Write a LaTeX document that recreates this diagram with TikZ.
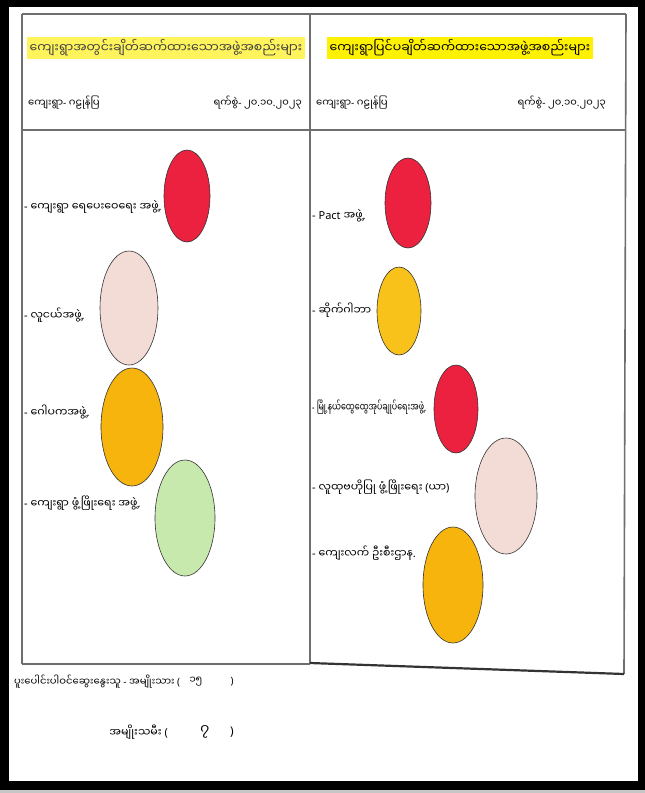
\documentclass[tikz,border=0pt]{standalone}
\usepackage{fontspec}
\setmainfont{Noto Sans}
\newfontfamily\my[Script=Myanmar]{Noto Sans Myanmar UI}
\usetikzlibrary{shapes.geometric}
\definecolor{dotred}{HTML}{EC2140}
\definecolor{dotpink}{HTML}{F4DCD6}
\definecolor{dotorange}{HTML}{F6B40C}
\definecolor{dotyellow}{HTML}{F8C21A}
\definecolor{dotgreen}{HTML}{C8E9AE}
\definecolor{hlright}{HTML}{FFF200}
\definecolor{hlleft}{HTML}{FFF45C}
\definecolor{rule}{HTML}{6E6E6E}
\tikzset{
  tline/.style={draw=rule, line width=1.6pt},
  dot/.style={ellipse, draw=black!80, line width=0.6pt, inner sep=0pt},
  lab/.style={anchor=west, inner sep=0pt, font=\fontsize{11}{13}\selectfont},
  title/.style={inner sep=3pt, font=\fontsize{12.5}{14}\selectfont},
  meta/.style={inner sep=0pt, font=\fontsize{10}{12}\selectfont},
}
\begin{document}
\begin{tikzpicture}[x=1pt,y=-1pt]
\useasboundingbox (0,0) rectangle (645,793);
% photo frame
\fill[black] (0,0) rectangle (645,790);
\fill[gray!45] (0,790) rectangle (645,793);
\fill[white] (9,7) rectangle (638,781);
% table
\draw[tline] (22,14) -- (626,14);
\draw[tline] (22,130) -- (626,130);
\draw[tline] (22,14) -- (22,664);
\draw[tline] (310,14) -- (310,664);
\draw[tline] (626,14) -- (624,674);
\draw[tline] (22,664) -- (310,664);
\draw[draw=black!80, line width=2.2pt] (310,663) -- (624,674);
% titles
\node[title, fill=hlleft, text=black!75] (t1) at (166,48) {\my ကျေးရွာအတွင်းချိတ်ဆက်ထားသောအဖွဲ့အစည်းများ};
\node[title, fill=hlright] (t2) at (460,48) {\my ကျေးရွာပြင်ပချိတ်ဆက်ထားသောအဖွဲ့အစည်းများ};
% meta row
\node[meta, anchor=west] (v1) at (28,103) {{\my ကျေးရွာ}- {\my ဂဠုန်ပြ}};
\node[meta, anchor=east] (d1) at (302,103) {{\my ရက်စွဲ}- {\my ၂၀}.{\my ၁၀}.{\my ၂၀၂၃}};
\node[meta, anchor=west] (v2) at (316,103) {{\my ကျေးရွာ}- {\my ဂဠုန်ပြ}};
\node[meta, anchor=east] (d2) at (606,103) {{\my ရက်စွဲ}- {\my ၂၀}.{\my ၁၀}.{\my ၂၀၂၃}};
% left column
\node[dot, fill=dotred, minimum width=46pt, minimum height=92pt] (l1) at (187,196) {};
\node[dot, fill=dotpink, minimum width=58pt, minimum height=114pt] (l2) at (129,308) {};
\node[dot, fill=dotorange, minimum width=62pt, minimum height=118pt] (l3) at (132,427) {};
\node[dot, fill=dotgreen, minimum width=60pt, minimum height=116pt] (l4) at (185,518) {};
\node[lab] (a1) at (24,207) {- {\my ကျေးရွာ ရေပေးဝေရေး အဖွဲ့}.};
\node[lab] (a2) at (24,315) {- {\my လူငယ်အဖွဲ့}.};
\node[lab] (a3) at (24,412) {- {\my ဂေါပကအဖွဲ့}.};
\node[lab] (a4) at (24,503) {- {\my ကျေးရွာ ဖွံ့ဖြိုးရေး အဖွဲ့}.};
% right column
\node[dot, fill=dotred, minimum width=46pt, minimum height=90pt] (r1) at (408,203) {};
\node[dot, fill=dotyellow, minimum width=44pt, minimum height=88pt] (r2) at (399,311) {};
\node[dot, fill=dotred, minimum width=44pt, minimum height=88pt] (r3) at (456,409) {};
\node[dot, fill=dotpink, minimum width=62pt, minimum height=116pt] (r4) at (506,496) {};
\node[dot, fill=dotorange, minimum width=60pt, minimum height=116pt] (r5) at (453,585) {};
\node[lab] (b1) at (312,216) {- Pact {\my အဖွဲ့}.};
\node[lab] (b2) at (312,310) {- {\my ဆိုက်ဂါဘာ}};
\node[lab, xscale=0.72] (b3) at (312,407) {- {\my မြို့နယ်ထွေထွေအုပ်ချုပ်ရေးအဖွဲ့}.};
\node[lab] (b4) at (312,487) {- {\my လူထုဗဟိုပြု ဖွံ့ဖြိုးရေး} ({\my ယာ})};
\node[lab] (b5) at (312,553) {- {\my ကျေးလက် ဦးစီးဌာန}.};
% participants
\node[meta, anchor=west] (p1) at (14,682) {{\my ပူးပေါင်းပါဝင်ဆွေးနွေးသူ} - {\my အမျိုးသား} (};
\node[meta] (p1n) at (196,682) {\my ၁၅};
\node[meta] (p1c) at (232,682) {)};
\node[meta, anchor=east, font=\fontsize{11}{13}\selectfont] (p2) at (168,732) {{\my အမျိုးသမီး} (};
\node[meta, font=\fontsize{14}{15}\selectfont] (p2n) at (205,732) {\my ၇};
\node[meta, font=\fontsize{12}{13}\selectfont] (p2c) at (232,732) {)};
\end{tikzpicture}
\end{document}
